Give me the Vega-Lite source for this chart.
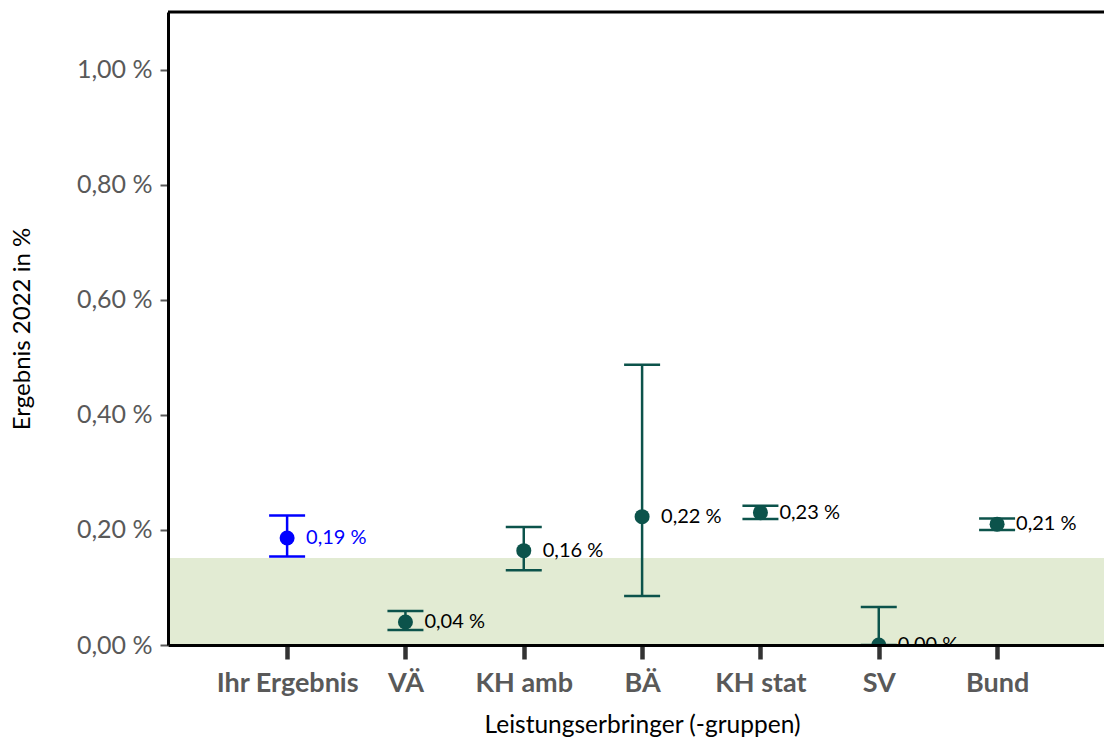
{
  "$schema": "https://vega.github.io/schema/vega-lite/v6.json",
  "width": 936,
  "height": 633,
  "autosize": {"type": "none"},
  "padding": {"left": 168, "top": 12, "right": 0, "bottom": 93},
  "background": "white",
  "config": {"view": {"stroke": null}, "font": "Lato"},
  "datasets": {
    "ergebnisse": [
      {"gruppe": "Ihr Ergebnis", "typ": "eigen", "wert": 0.186, "unten": 0.154, "oben": 0.225},
      {"gruppe": "VÄ", "typ": "vergleich", "wert": 0.040, "unten": 0.026, "oben": 0.059},
      {"gruppe": "KH amb", "typ": "vergleich", "wert": 0.164, "unten": 0.130, "oben": 0.205},
      {"gruppe": "BÄ", "typ": "vergleich", "wert": 0.223, "unten": 0.085, "oben": 0.487},
      {"gruppe": "KH stat", "typ": "vergleich", "wert": 0.230, "unten": 0.219, "oben": 0.242},
      {"gruppe": "SV", "typ": "vergleich", "wert": 0.000, "unten": 0.000, "oben": 0.066},
      {"gruppe": "Bund", "typ": "vergleich", "wert": 0.210, "unten": 0.200, "oben": 0.220}
    ],
    "zielbereich": [{"von": 0, "bis": 0.151}]
  },
  "data": {"name": "ergebnisse"},
  "layer": [
    {
      "data": {"name": "zielbereich"},
      "mark": {"type": "rect", "color": "#e2ebd3"},
      "encoding": {
        "y": {
          "field": "von",
          "type": "quantitative",
          "scale": {"domain": [0, 1.1], "nice": false, "zero": true},
          "axis": {
            "title": "Ergebnis 2022 in %",
            "values": [0, 0.2, 0.4, 0.6, 0.8, 1.0],
            "labelExpr": "replace(format(datum.value, '.2f'), '.', ',') + ' %'",
            "labelFontSize": 25,
            "labelColor": "#595959",
            "labelPadding": 8,
            "tickSize": 8,
            "tickWidth": 2,
            "tickColor": "#595959",
            "domainColor": "#000000",
            "domainWidth": 3,
            "grid": false,
            "titleFontSize": 24,
            "titleFontWeight": "normal",
            "titleColor": "#000000",
            "titleX": -146,
            "titleY": 316.5,
            "titleAngle": -90,
            "titleBaseline": "middle",
            "titleAlign": "center",
            "zindex": 1
          }
        },
        "y2": {"field": "bis"}
      }
    },
    {
      "mark": {"type": "rule", "strokeWidth": 2.5, "clip": true},
      "encoding": {
        "x": {
          "field": "gruppe",
          "type": "nominal",
          "sort": null,
          "scale": {
            "type": "point",
            "domain": ["Ihr Ergebnis", "VÄ", "KH amb", "BÄ", "KH stat", "SV", "Bund"],
            "padding": 0.955,
            "align": 0.527
          },
          "axis": {
            "title": "Leistungserbringer (-gruppen)",
            "labelFontSize": 27,
            "labelFontWeight": "bold",
            "labelColor": "#595959",
            "labelAngle": 0,
            "labelPadding": 24,
            "labelBaseline": "middle",
            "tickSize": 14,
            "tickWidth": 4.5,
            "tickColor": "#333333",
            "domainColor": "#000000",
            "domainWidth": 3,
            "grid": false,
            "titleFontSize": 24.5,
            "titleFontWeight": "normal",
            "titleColor": "#000000",
            "titleX": 474,
            "titleY": 80,
            "titleBaseline": "middle",
            "zindex": 1
          }
        },
        "y": {"field": "unten", "type": "quantitative"},
        "y2": {"field": "oben"},
        "color": {
          "field": "typ",
          "type": "nominal",
          "scale": {"domain": ["eigen", "vergleich"], "range": ["#0000ff", "#0c534b"]},
          "legend": null
        }
      }
    },
    {
      "mark": {"type": "tick", "size": 36, "thickness": 2.5, "opacity": 1, "clip": true},
      "encoding": {
        "x": {"field": "gruppe", "type": "nominal", "sort": null},
        "y": {"field": "oben", "type": "quantitative"},
        "color": {"field": "typ", "type": "nominal", "legend": null}
      }
    },
    {
      "mark": {"type": "tick", "size": 36, "thickness": 2.5, "opacity": 1, "clip": true},
      "encoding": {
        "x": {"field": "gruppe", "type": "nominal", "sort": null},
        "y": {"field": "unten", "type": "quantitative"},
        "color": {"field": "typ", "type": "nominal", "legend": null}
      }
    },
    {
      "mark": {"type": "circle", "size": 225, "opacity": 1, "clip": true},
      "encoding": {
        "x": {"field": "gruppe", "type": "nominal", "sort": null},
        "y": {"field": "wert", "type": "quantitative"},
        "color": {"field": "typ", "type": "nominal", "legend": null}
      }
    },
    {
      "transform": [
        {"calculate": "replace(format(datum.wert, '.2f'), '.', ',') + ' %'", "as": "beschriftung"}
      ],
      "mark": {"type": "text", "align": "left", "baseline": "middle", "dx": 19, "fontSize": 20, "clip": true},
      "encoding": {
        "x": {"field": "gruppe", "type": "nominal", "sort": null},
        "y": {"field": "wert", "type": "quantitative"},
        "text": {"field": "beschriftung"},
        "color": {
          "condition": {"test": "datum.typ === 'eigen'", "value": "#0000ff"},
          "value": "#000000"
        }
      }
    },
    {
      "data": {"values": [{}]},
      "mark": {"type": "rule", "color": "#000000", "strokeWidth": 3},
      "encoding": {"y": {"datum": 1.1}}
    }
  ]
}
